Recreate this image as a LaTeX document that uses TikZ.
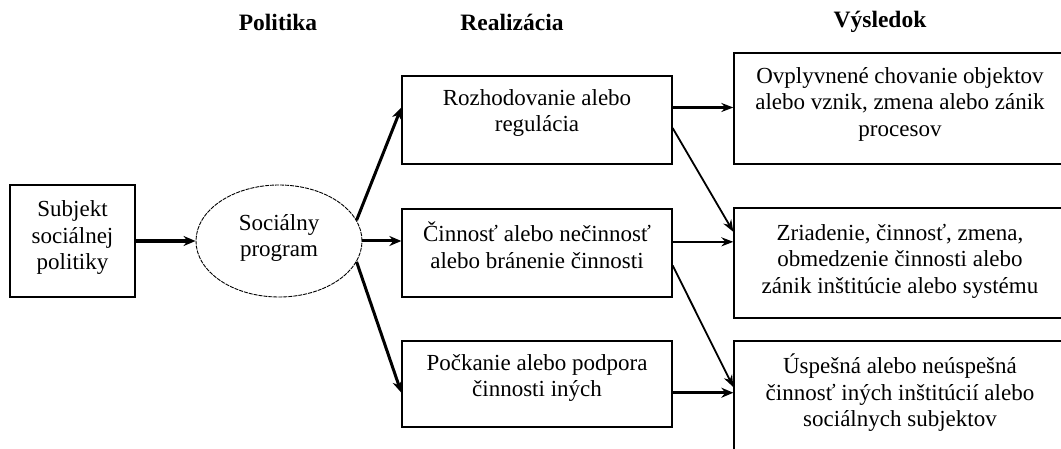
\documentclass[tikz,border=0pt]{standalone}
\usepackage{fontspec}
\setmainfont{Liberation Serif}
\usetikzlibrary{shapes.geometric,arrows.meta,calc}
\begin{document}
\begin{tikzpicture}[x=1pt,y=-1pt,
  box/.style={draw,line width=1.3pt,inner sep=0pt,rectangle},
  txt/.style={align=center,font=\fontsize{23}{26.5}\selectfont,inner sep=0pt},
  head/.style={font=\fontsize{23.5}{26}\selectfont\bfseries,inner sep=0pt},
  arr/.style={-{Stealth[length=12pt,width=10pt]},line width=3pt},
  arrthin/.style={-{Stealth[length=12pt,width=9pt]},line width=1.8pt},
  arrmid/.style={-{Stealth[length=12pt,width=9pt]},line width=2.4pt}]
\useasboundingbox (0,0) rectangle (1061,449);
\clip (0,0) rectangle (1061,449);
\fill[white] (0,0) rectangle (1061,449);
% headers
\node[head] (h1) at (278,22) {Politika};
\node[head] (h2) at (512,22) {Realizácia};
\node[head] (h3) at (880,22) {Výsledok};
% shapes
\node[box,minimum width=125pt,minimum height=112pt] (lb) at (72.5,241) {};
\node[draw,ellipse,line width=0.9pt,dash pattern=on 4pt off 1pt,minimum width=166pt,minimum height=112pt,inner sep=0pt] (ell) at (279,241) {};
\node[box,minimum width=270pt,minimum height=88pt] (b1) at (537,120) {};
\node[box,minimum width=270pt,minimum height=88pt] (b2) at (537,253) {};
\node[box,minimum width=270pt,minimum height=86pt] (b3) at (537,384) {};
\node[box,minimum width=332pt,minimum height=111pt] (r1) at (900,108.5) {};
\node[box,minimum width=332pt,minimum height=110pt] (r2) at (900,263) {};
\node[box,minimum width=332pt,minimum height=110pt] (r3) at (900,396) {};
% texts
\node[txt] (tlb) at (72.5,238) {Subjekt\\sociálnej\\politiky};
\node[txt] (tell) at (279,238) {Sociálny\\program};
\node[txt] (tb1) at (537,113) {Rozhodovanie alebo\\regulácia};
\node[txt] (tb2) at (537,245) {Činnosť alebo nečinnosť\\alebo bránenie činnosti};
\node[txt] (tb3) at (537,378) {Počkanie alebo podpora\\činnosti iných};
\node[txt] (tr1) at (900,104) {Ovplyvnené chovanie objektov\\alebo vznik, zmena alebo zánik\\procesov};
\node[txt] (tr2) at (900,261) {Zriadenie, činnosť, zmena,\\obmedzenie činnosti alebo\\zánik inštitúcie alebo systému};
\node[txt] (tr3) at (900,393) {Úspešná alebo neúspešná\\činnosť iných inštitúcií alebo\\sociálnych subjektov};
% connectors
\draw[arr,line width=3.4pt] (lb.east) -- (ell.west);
\draw[arr] (ell.15) -- ($(b1.north west)!0.36!(b1.south west)$);
\draw[arr] (ell.east) -- (ell.east -| b2.west);
\draw[arr] (ell.-15) -- ($(b3.north west)!0.6!(b3.south west)$);
\coordinate (s1) at ($(b1.north east)!0.36!(b1.south east)$);
\draw[arrmid] (s1) -- (s1 -| r1.west);
\draw[arrthin] ($(b1.north east)!0.59!(b1.south east)$) -- ($(r2.north west)!0.22!(r2.south west)$);
\coordinate (s2) at ($(b2.north east)!0.375!(b2.south east)$);
\draw[arrmid] (s2) -- (s2 -| r2.west);
\draw[arrthin] ($(b2.north east)!0.64!(b2.south east)$) -- ($(r3.north west)!0.42!(r3.south west)$);
\coordinate (s3) at ($(b3.north east)!0.6!(b3.south east)$);
\draw[arr] (s3) -- (s3 -| r3.west);
\end{tikzpicture}
\end{document}
